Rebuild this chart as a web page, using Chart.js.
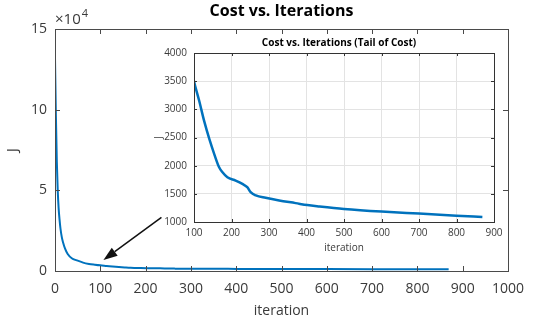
<!DOCTYPE html>
<html>
<head>
<meta charset="utf-8">
<script src="https://cdn.jsdelivr.net/npm/chart.js@4.4.1/dist/chart.umd.min.js"></script>
<style>
  html, body { margin: 0; padding: 0; background: #fff; }
  #wrap { position: relative; width: 535px; height: 324px; }
  #mainChart { position: absolute; left: 0; top: 0; }
  #tailChart { position: absolute; left: 140px; top: 30px; }
</style>
</head>
<body>
<div id="wrap">
  <canvas id="mainChart" width="535" height="324"></canvas>
  <canvas id="tailChart" width="370" height="230"></canvas>
</div>
<script>
// cost history of gradient descent
const iterations = [0, 2, 4, 6, 8, 10, 12, 15, 18, 22, 28, 37, 48, 62, 75, 88, 100,
  114, 127, 141, 154, 167, 176, 189, 211, 229, 242, 251, 265, 291, 327, 371, 402,
  435, 500, 600, 700, 800, 869];
const cost = [132000, 96000, 68000, 50000, 39000, 32000, 26500, 21000, 17500, 14000,
  10500, 7900, 6600, 5200, 4400, 3900, 3500,
  3147, 2794, 2470, 2206, 1971, 1882, 1794, 1735, 1676, 1618, 1529, 1471, 1429,
  1382, 1335, 1300, 1275, 1232, 1185, 1149, 1113, 1089];

const mainYTicks = [0, 50000, 100000, 150000];
const mainYTickLabels = ['0', '5', '10', '15'];

const FONT = "'Open Sans', 'Noto Sans', sans-serif";
const TEXT = '#3a3a3a';
const BLUE = '#0072BD';

const points = iterations.map((it, i) => ({ x: it, y: cost[i] }));
const plain = v => String(v);

// MATLAB style box with inward ticks on all four sides
const boxTicks = {
  id: 'boxTicks',
  afterDraw(chart, args, opts) {
    const { ctx, chartArea: a, scales: { x, y } } = chart;
    const len = opts.len || 4;
    ctx.save();
    ctx.strokeStyle = opts.color || '#333';
    ctx.lineWidth = 1;
    ctx.beginPath();
    x.ticks.forEach(t => {
      const px = Math.round(x.getPixelForValue(t.value)) + 0.5;
      ctx.moveTo(px, a.bottom); ctx.lineTo(px, a.bottom - len);
      ctx.moveTo(px, a.top); ctx.lineTo(px, a.top + len);
    });
    y.ticks.forEach(t => {
      const py = Math.round(y.getPixelForValue(t.value)) + 0.5;
      ctx.moveTo(a.left, py); ctx.lineTo(a.left + len, py);
      ctx.moveTo(a.right, py); ctx.lineTo(a.right - len, py);
    });
    ctx.stroke();
    ctx.strokeRect(Math.round(a.left) + 0.5, Math.round(a.top) + 0.5,
      Math.round(a.right - a.left), Math.round(a.bottom - a.top));
    ctx.restore();
  }
};

// titles and the x10^4 exponent marker
const headText = {
  id: 'headText',
  afterDraw(chart, args, opts) {
    const { ctx, chartArea: a } = chart;
    ctx.save();
    ctx.fillStyle = '#000';
    ctx.textAlign = 'center';
    ctx.textBaseline = 'middle';
    ctx.font = 'bold ' + opts.size + 'px ' + FONT;
    ctx.fillText(opts.text, (a.left + a.right) / 2 + (opts.dx || 0), opts.y);
    if (opts.exponent) {
      ctx.fillStyle = TEXT;
      ctx.textAlign = 'left';
      ctx.textBaseline = 'alphabetic';
      ctx.font = '15px ' + FONT;
      ctx.fillText('\u00d710', a.left, 24);
      const w = ctx.measureText('\u00d710').width;
      ctx.font = '11px ' + FONT;
      ctx.fillText(opts.exponent, a.left + w + 1, 17);
    }
    ctx.restore();
  }
};

// arrow pointing from the inset down to the tail of the curve
const arrowFrom = [235, 33300];
const arrowTo = [107, 6800];
const arrow = {
  id: 'arrow',
  afterDatasetsDraw(chart) {
    const { ctx, scales: { x, y } } = chart;
    const x0 = x.getPixelForValue(arrowFrom[0]), y0 = y.getPixelForValue(arrowFrom[1]);
    const x1 = x.getPixelForValue(arrowTo[0]), y1 = y.getPixelForValue(arrowTo[1]);
    const ang = Math.atan2(y1 - y0, x1 - x0);
    const head = 14, half = 5;
    const bx = x1 - head * Math.cos(ang), by = y1 - head * Math.sin(ang);
    ctx.save();
    ctx.strokeStyle = '#111';
    ctx.fillStyle = '#111';
    ctx.lineWidth = 1.5;
    ctx.beginPath();
    ctx.moveTo(x0, y0);
    ctx.lineTo(bx, by);
    ctx.stroke();
    ctx.beginPath();
    ctx.moveTo(x1, y1);
    ctx.lineTo(bx + half * Math.sin(ang), by - half * Math.cos(ang));
    ctx.lineTo(bx - half * Math.sin(ang), by + half * Math.cos(ang));
    ctx.closePath();
    ctx.fill();
    ctx.restore();
  }
};

new Chart(document.getElementById('mainChart'), {
  type: 'line',
  data: {
    datasets: [{
      data: points,
      borderColor: BLUE,
      borderWidth: 2,
      pointRadius: 0,
      cubicInterpolationMode: 'monotone'
    }]
  },
  options: {
    responsive: false,
    animation: false,
    layout: { padding: { top: 29, right: 27, left: 0, bottom: 0 } },
    plugins: {
      legend: { display: false },
      tooltip: { enabled: false },
      boxTicks: { len: 5, color: '#4a4a4a' },
      headText: { text: 'Cost vs. Iterations', size: 16, y: 11, exponent: '4' }
    },
    scales: {
      x: {
        type: 'linear',
        min: 0,
        max: 1000,
        grid: { display: false, drawTicks: false },
        border: { display: false },
        ticks: { stepSize: 100, color: TEXT, padding: 10, font: { family: FONT, size: 14 },
          callback: plain },
        title: { display: true, text: 'iteration', color: TEXT, padding: { top: 0, bottom: 5 },
          font: { family: FONT, size: 14 } },
        afterFit(scale) { scale.height = 53; }
      },
      y: {
        min: 0,
        max: 150000,
        grid: { display: false, drawTicks: false },
        border: { display: false },
        afterBuildTicks(scale) { scale.ticks = mainYTicks.map(v => ({ value: v })); },
        ticks: {
          color: TEXT, padding: 8, font: { family: FONT, size: 14 },
          callback: v => mainYTickLabels[mainYTicks.indexOf(v)]
        },
        title: { display: true, text: 'J', color: TEXT, padding: { top: 5, bottom: 0 },
          font: { family: FONT, size: 14 } },
        afterFit(scale) { scale.width = 55; }
      }
    }
  },
  plugins: [boxTicks, headText, arrow]
});

new Chart(document.getElementById('tailChart'), {
  type: 'line',
  data: {
    datasets: [{
      data: points,
      borderColor: BLUE,
      borderWidth: 2.5,
      pointRadius: 0,
      cubicInterpolationMode: 'monotone'
    }]
  },
  options: {
    responsive: false,
    animation: false,
    layout: { padding: { top: 23, right: 16, left: 0, bottom: 0 } },
    plugins: {
      legend: { display: false },
      tooltip: { enabled: false },
      boxTicks: { len: 3, color: '#333' },
      headText: { text: 'Cost vs. Iterations (Tail of Cost)', size: 10, y: 13, dx: -5 }
    },
    scales: {
      x: {
        type: 'linear',
        min: 100,
        max: 900,
        grid: { color: '#e3e3e3', drawTicks: false },
        border: { display: false },
        ticks: { stepSize: 100, color: TEXT, padding: 5, font: { family: FONT, size: 10 },
          callback: plain },
        title: { display: true, text: 'iteration', color: TEXT, padding: { top: 0, bottom: 6 },
          font: { family: FONT, size: 10 } },
        afterFit(scale) { scale.height = 38; }
      },
      y: {
        min: 1000,
        max: 4000,
        grid: { color: '#e3e3e3', drawTicks: false },
        border: { display: false },
        ticks: { stepSize: 500, color: TEXT, padding: 7, font: { family: FONT, size: 10 },
          callback: plain },
        title: { display: true, text: 'J', color: TEXT, padding: { top: 13, bottom: 0 },
          font: { family: FONT, size: 10 } },
        afterFit(scale) { scale.width = 54; }
      }
    }
  },
  plugins: [boxTicks, headText]
});
</script>
</body>
</html>
